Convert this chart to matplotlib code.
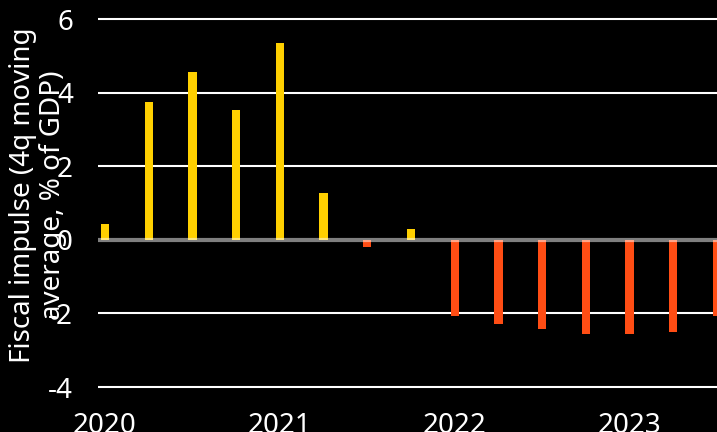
import numpy as np
import matplotlib
matplotlib.use("Agg")
import matplotlib.pyplot as plt

plt.rcParams['font.family'] = ['Noto Sans', 'DejaVu Sans']
plt.rcParams['axes.unicode_minus'] = False

# fiscal impulse, 4q moving average, % of GDP, quarterly from 2020 Q1
quarters = np.arange(15)
impulse = [0.42, 3.75, 4.56, 3.53, 5.35, 1.28, -0.18, 0.30,
           -2.06, -2.29, -2.43, -2.55, -2.56, -2.51, -2.08]
year_ticks = [0, 4, 8, 12]
year_labels = ['2020', '2021', '2022', '2023']

YELLOW = '#ffd000'
ORANGE = '#ff4d14'

fig = plt.figure(figsize=(7.17, 4.32), dpi=100, facecolor='black')
ax = fig.add_axes([98/717, 41.3/432, 619/717, 375.1/432])
ax.set_facecolor('black')

colors = [YELLOW if v >= 0 else ORANGE for v in impulse]
ax.bar(quarters, impulse, width=0.19, color=colors, zorder=2)

ax.set_ylim(-4.1, 6.1)
ax.set_xlim(-0.16, 14.0)
ax.set_yticks([-4, -2, 0, 2, 4, 6])
ax.set_xticks(year_ticks)
ax.set_xticklabels(year_labels)

for y in [-4, -2, 2, 4, 6]:
    ax.axhline(y, color='white', lw=1.5, zorder=1)
ax.axhline(0, color='white', alpha=0.5, lw=3, zorder=3)

for s in ax.spines.values():
    s.set_visible(False)
ax.tick_params(colors='white', labelsize=20, length=0)
ax.tick_params(axis='y', pad=18)
ax.tick_params(axis='x', pad=15)

ax.set_ylabel('Fiscal impulse (4q moving\naverage, % of GDP)', color='white',
              fontsize=20, linespacing=1.12)
ax.yaxis.set_label_coords(-0.05, 0.52)

fig.savefig('out.png', dpi=100, facecolor='black')
